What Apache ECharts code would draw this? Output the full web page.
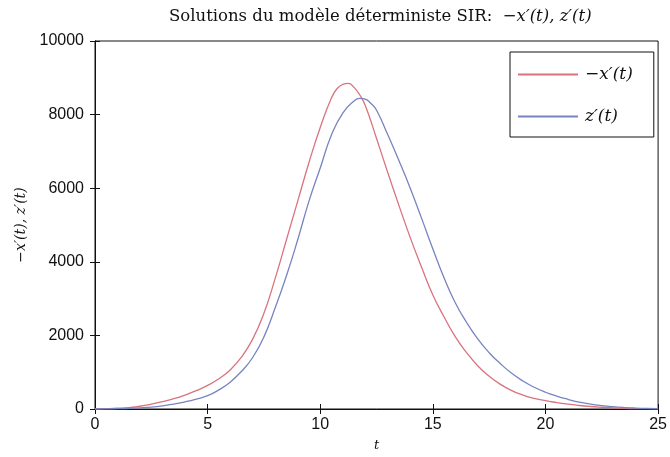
<!DOCTYPE html>
<html><head><meta charset="utf-8">
<script src="https://cdn.jsdelivr.net/npm/echarts@6/dist/echarts.min.js"></script>
<style>html,body{margin:0;padding:0;background:#fff}#c{width:670px;height:457px}</style>
</head><body><div id="c"></div>
<script>
var tValues = [0,0.5,1,1.5,2,2.5,3,3.5,4,4.5,5,5.5,6,6.5,7,7.5,8,8.5,9,9.5,10,10.5,10.75,11,11.25,11.5,11.75,12,12.5,13,13.5,14,14.5,15,15.5,16,16.5,17,17.5,18,18.5,19,19.5,20,20.5,21,21.5,22,22.5,23,23.5,24,24.5,25];
var minusXPrime = [0,8,20,40,75,130,200,280,380,500,640,820,1060,1410,1900,2600,3550,4600,5650,6700,7650,8460,8710,8820,8850,8740,8540,8250,7350,6420,5520,4650,3850,3100,2500,1960,1530,1170,890,670,500,380,290,225,175,130,95,68,48,32,20,12,8,5];
var zPrimeT = [0,0.5,1,1.5,2,2.5,3,3.5,4,4.5,5,5.5,6,6.5,7,7.5,8,8.5,9,9.5,10,10.5,11,11.5,11.75,12,12.25,12.5,13,13.5,14,14.5,15,15.5,16,16.5,17,17.5,18,18.5,19,19.5,20,20.5,21,21.5,22,22.5,23,23.5,24,24.5,25];
var zPrime = [0,4,10,18,30,50,85,135,195,270,361,520,730,1020,1400,1960,2750,3620,4600,5650,6550,7450,8040,8370,8440,8420,8300,8120,7450,6740,5990,5180,4350,3560,2880,2350,1900,1530,1230,970,760,590,455,350,262,185,132,92,62,40,25,15,10];
var xTicks = [0,5,10,15,20,25];
var yTicks = [0,2000,4000,6000,8000,10000];
var seriesNames = ['\u2212x\u2032(t)','z\u2032(t)'];

function pairs(xs, ys){ return xs.map(function(x,i){return [x, ys[i]];}); }

var chart = echarts.init(document.getElementById('c'), null, {renderer:'canvas'});
var axisFont = {fontFamily:'Liberation Sans', fontSize:16, color:'#111'};
chart.setOption({
  animation:false,
  backgroundColor:'#fff',
  title:{
    text:'{n|Solutions du modèle déterministe SIR:  }{m|\u2212x\u2032(t), z\u2032(t)}',
    left:164, top:3,
    textStyle:{fontWeight:'normal', rich:{
      n:{fontFamily:'DejaVu Serif', fontSize:16.5, fontWeight:'normal', color:'#111'},
      m:{fontFamily:'DejaVu Serif', fontSize:16.5, fontWeight:'normal', fontStyle:'italic', color:'#111'}
    }}
  },
  grid:{left:95, right:10, top:41, bottom:47, show:true, borderColor:'#111', borderWidth:1},
  legend:{
    orient:'vertical', left:510, top:52,
    backgroundColor:'#fff', borderColor:'#111', borderWidth:1,
    padding:[14,21,12,8], itemGap:25, itemWidth:60, itemHeight:2,
    icon:'rect',
    textStyle:{fontFamily:'DejaVu Serif', fontStyle:'italic', fontSize:17, color:'#111', padding:[0,0,0,2]},
    data:seriesNames
  },
  xAxis:[{
    type:'value', min:0, max:25, interval:5,
    name:'t', nameLocation:'middle', nameGap:30,
    nameTextStyle:{fontFamily:'DejaVu Serif', fontStyle:'italic', fontSize:13, color:'#111'},
    axisLine:{show:true, lineStyle:{color:'#111'}},
    axisTick:{inside:true, length:5, lineStyle:{color:'#111'}},
    axisLabel:Object.assign({margin:8, formatter:function(v){return xTicks.indexOf(v)>=0?String(v):'';}}, axisFont),
    splitLine:{show:false}
  },{
    type:'value', position:'top', min:0, max:25, interval:5,
    axisLine:{show:true, lineStyle:{color:'#111'}},
    axisTick:{inside:true, length:5, lineStyle:{color:'#111'}},
    axisLabel:{show:false}, splitLine:{show:false}
  }],
  yAxis:[{
    type:'value', min:0, max:10000, interval:2000,
    name:'\u2212x\u2032(t), z\u2032(t)', nameLocation:'middle', nameGap:67,
    nameTextStyle:{fontFamily:'DejaVu Serif', fontStyle:'italic', fontSize:14, color:'#111'},
    axisLine:{show:true, lineStyle:{color:'#111'}},
    axisTick:{inside:true, length:5, lineStyle:{color:'#111'}},
    axisLabel:Object.assign({margin:11, formatter:function(v){return yTicks.indexOf(v)>=0?String(v):'';}}, axisFont),
    splitLine:{show:false}
  },{
    type:'value', position:'right', min:0, max:10000, interval:2000,
    axisLine:{show:true, lineStyle:{color:'#111'}},
    axisTick:{inside:true, length:5, lineStyle:{color:'#111'}},
    axisLabel:{show:false}, splitLine:{show:false}
  }],
  series:[{
    name:seriesNames[0], type:'line', smooth:true, showSymbol:false,
    xAxisIndex:0, yAxisIndex:0,
    lineStyle:{color:'#d9737e', width:1.3}, itemStyle:{color:'#d9737e'},
    data:pairs(tValues, minusXPrime)
  },{
    name:seriesNames[1], type:'line', smooth:true, showSymbol:false,
    xAxisIndex:0, yAxisIndex:0,
    lineStyle:{color:'#7884c0', width:1.3}, itemStyle:{color:'#7884c0'},
    data:pairs(zPrimeT, zPrime)
  }]
});
</script></body></html>
